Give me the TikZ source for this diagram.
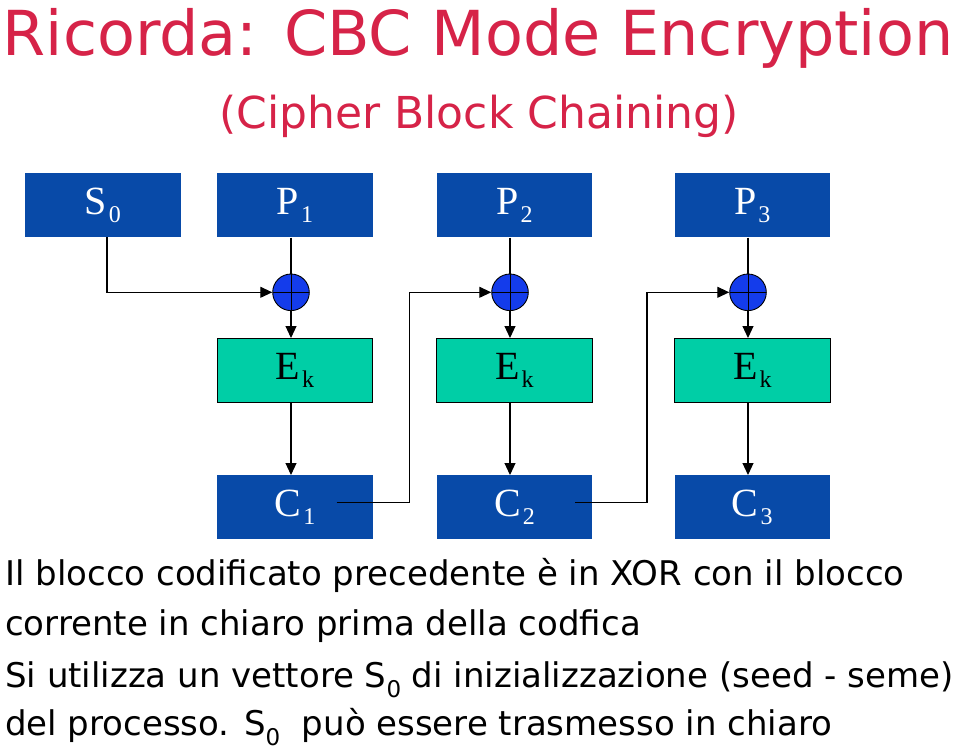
\documentclass[tikz,border=0pt]{standalone}
\usepackage{fontspec}
\setmainfont{Liberation Serif}
\newfontfamily\comicfont{DejaVu Sans}
\usetikzlibrary{arrows.meta}

\definecolor{titlered}{RGB}{214,35,72}
\definecolor{blockblue}{RGB}{8,74,168}
\definecolor{encteal}{RGB}{0,206,166}
\definecolor{xorblue}{RGB}{20,60,235}

% subscript in the boxes and in the notes
\newcommand{\boxsub}[1]{\kern2pt\raisebox{-8pt}{\fontsize{24}{24}\selectfont #1}}
\newcommand{\notesub}[1]{\raisebox{-10pt}{\fontsize{23}{23}\selectfont #1}}

\begin{document}
\begin{tikzpicture}[x=1pt, y=-1pt,
    block/.style={fill=blockblue, text=white, minimum width=155.5pt, minimum height=64pt,
        inner sep=0pt, font=\fontsize{40}{40}\selectfont},
    cipher/.style={draw=black, line width=0.9pt, fill=encteal, text=black,
        minimum width=155.5pt, minimum height=63.5pt, inner sep=0pt, font=\fontsize{40}{40}\selectfont},
    xor/.style={circle, draw=black, line width=0.9pt, fill=xorblue, minimum size=36.6pt, inner sep=0pt,
        path picture={\draw[line width=0.9pt] (path picture bounding box.north) -- (path picture bounding box.south)
            (path picture bounding box.west) -- (path picture bounding box.east);}},
    flow/.style={-{Triangle[length=12pt, width=11pt]}, line width=1.1pt},
    link/.style={line width=1.1pt},
    note/.style={anchor=base west, inner sep=0pt, font=\comicfont\fontsize{34}{34}\selectfont}]

    \useasboundingbox (0,0) rectangle (960,750);

    % titles
    \node[anchor=base, inner sep=0pt, text=titlered, font=\comicfont\fontsize{62}{62}\selectfont]
        (title) at (478,55) {Ricorda: CBC Mode Encryption};
    \node[anchor=base, inner sep=0pt, text=titlered, font=\comicfont\fontsize{44}{44}\selectfont]
        (subtitle) at (479,128) {(Cipher Block Chaining)};

    % plaintext row
    \node[block] (S0) at (102.8,205.3) {S\boxsub{0}};
    \node[block] (P1) at (295,205.3) {P\boxsub{1}};
    \node[block] (P2) at (514.5,205.3) {P\boxsub{2}};
    \node[block] (P3) at (752.3,205.3) {P\boxsub{3}};

    % xor
    \node[xor] (X1) at (291,292.3) {};
    \node[xor] (X2) at (510,292.3) {};
    \node[xor] (X3) at (748,292.3) {};

    % encryption
    \node[cipher] (E1) at (295,370.2) {E\boxsub{k}};
    \node[cipher] (E2) at (514.5,370.2) {E\boxsub{k}};
    \node[cipher] (E3) at (752.3,370.2) {E\boxsub{k}};

    % ciphertext row
    \node[block] (C1) at (295,507.2) {C\boxsub{1}};
    \node[block] (C2) at (514.5,507.2) {C\boxsub{2}};
    \node[block] (C3) at (752.3,507.2) {C\boxsub{3}};

    \coordinate (S0out) at (107,237.3);
    \coordinate (C1out) at (336.7,502.7);
    \coordinate (C1turn) at (409.3,502.7);
    \coordinate (C2out) at (575,502.7);
    \coordinate (C2turn) at (647,502.7);

    \draw[link] (P1.south -| X1) -- (X1.north);
    \draw[link] (P2.south -| X2) -- (X2.north);
    \draw[link] (P3.south -| X3) -- (X3.north);

    \draw[flow] (X1.south) -- (E1.north -| X1);
    \draw[flow] (X2.south) -- (E2.north -| X2);
    \draw[flow] (X3.south) -- (E3.north -| X3);

    \draw[flow] (E1.south -| X1) -- (C1.north -| X1);
    \draw[flow] (E2.south -| X2) -- (C2.north -| X2);
    \draw[flow] (E3.south -| X3) -- (C3.north -| X3);

    \draw[flow] (S0out) |- (X1.west);
    \draw[flow] (C1out) -- (C1turn) |- (X2.west);
    \draw[flow] (C2out) -- (C2turn) |- (X3.west);

    % notes
    \node[note] (line1) at (5,585) {Il blocco codificato precedente è in XOR con il blocco};
    \node[note] (line2) at (5,635) {corrente in chiaro prima della codfica};
    \node[note] (line3) at (5,687) {Si utilizza un vettore S\notesub{0} di inizializzazione (seed - seme)};
    \node[note] (line4) at (5,735) {del processo. S\notesub{0}\ \ può essere trasmesso in chiaro};
\end{tikzpicture}
\end{document}
